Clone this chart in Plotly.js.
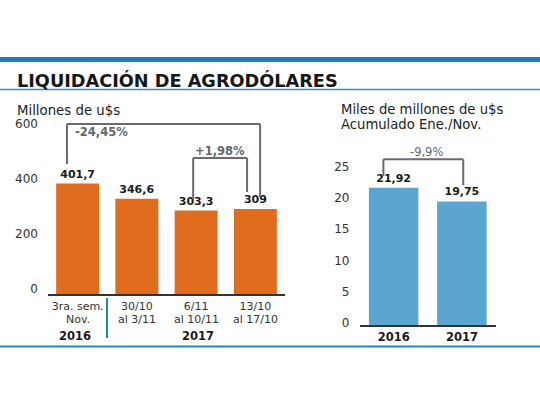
<!DOCTYPE html>
<html>
<head>
<meta charset="utf-8">
<script src="https://cdn.plot.ly/plotly-3.0.1.min.js"></script>
<style>
  html, body { margin: 0; padding: 0; background: #ffffff; }
  #chart { width: 540px; height: 405px; }
</style>
</head>
<body>
<div id="chart"></div>
<script>
// Weekly liquidation (millions of US$)
const weekLabelTop = ['3ra. sem.', '30/10', '6/11', '13/10'];
const weekLabelBottom = ['Nov.', 'al 3/11', 'al 10/11', 'al 17/10'];
const weekValues = [401.7, 346.6, 303.3, 309];
const weekTicks = [0, 200, 400, 600];

// Accumulated Jan./Nov. (billions of US$)
const yearCats = ['2016', '2017'];
const yearValues = [21.92, 19.75];
const yearTicks = [0, 5, 10, 15, 20, 25];

// Variation labels
const changeBig = '-24,45%';
const changeSmall = '+1,98%';
const changeYear = '-9,9%';

const W = 540, H = 405;
const px = v => v / W;          // pixel column -> paper x
const py = v => 1 - v / H;      // pixel row -> paper y

const ORANGE = '#e06c1e';
const BLUE = '#5aa6d0';
const RULE = '#1c7cb5';
const BRACKET = '#6b6b6b';
const FONT = 'DejaVu Sans, Verdana, sans-serif';

const fmt = v => String(v).replace('.', ',');

const traces = [
  {
    type: 'bar', x: weekLabelTop, y: weekValues,
    xaxis: 'x', yaxis: 'y',
    marker: { color: ORANGE },
    text: weekValues.map(fmt), textposition: 'outside', cliponaxis: false,
    textfont: { family: FONT, size: 11, color: '#1a1a1a', weight: 'bold' },
    hoverinfo: 'skip'
  },
  {
    type: 'bar', x: yearCats, y: yearValues,
    xaxis: 'x2', yaxis: 'y2',
    marker: { color: BLUE },
    text: yearValues.map(fmt), textposition: 'outside', cliponaxis: false,
    textfont: { family: FONT, size: 11, color: '#1a1a1a', weight: 'bold' },
    hoverinfo: 'skip'
  }
];

// bracket helper: two verticals joined by a top bar, in data coordinates
function bracket(xa, ya, xL, yL, xR, yR, yTop) {
  const base = { type: 'line', xref: xa, yref: ya, line: { color: BRACKET, width: 2 } };
  return [
    Object.assign({}, base, { x0: xL, x1: xL, y0: yL, y1: yTop }),
    Object.assign({}, base, { x0: xL, x1: xR, y0: yTop, y1: yTop }),
    Object.assign({}, base, { x0: xR, x1: xR, y0: yR, y1: yTop })
  ];
}

const shapes = [
  // heavy rule above the headline
  { type: 'rect', xref: 'paper', yref: 'paper', x0: 0, x1: 1, y0: py(62), y1: py(57),
    fillcolor: RULE, line: { width: 0 } },
  // thin rule under the headline
  { type: 'line', xref: 'paper', yref: 'paper', x0: 0, x1: 1, y0: py(89.5), y1: py(89.5),
    line: { color: '#3a8cc2', width: 1.5 } },
  // bottom rule
  { type: 'line', xref: 'paper', yref: 'paper', x0: 0, x1: 1, y0: py(346.5), y1: py(346.5),
    line: { color: '#2086c3', width: 2 } },
  // divider between years under the weekly chart
  { type: 'line', xref: 'paper', yref: 'paper', x0: px(107), x1: px(107), y0: py(298), y1: py(338),
    line: { color: '#2086c3', width: 2 } }
]
  .concat(bracket('x', 'y', -0.18, weekValues[0] + 71, 3.08, weekValues[3] + 44, 618))
  .concat(bracket('x', 'y', 1.95, weekValues[2] + 42, 2.86, weekValues[3] + 62, 495))
  .concat(bracket('x2', 'y2', -0.15, yearValues[0] + 1.9, 1.02, yearValues[1] + 2.6, 26.5));

const annotations = [
  { xref: 'paper', yref: 'paper', x: px(15), y: py(80), xanchor: 'left', yanchor: 'middle',
    text: 'LIQUIDACIÓN DE AGRODÓLARES', showarrow: false,
    font: { family: FONT, size: 17.7, color: '#161616', weight: 'bold' } },
  { xref: 'paper', yref: 'paper', x: px(15), y: py(110), xanchor: 'left', yanchor: 'middle',
    text: 'Millones de u$s', showarrow: false,
    font: { family: FONT, size: 13.3, color: '#222222' } },
  { xref: 'paper', yref: 'paper', x: px(339), y: py(109.5), xanchor: 'left', yanchor: 'middle',
    text: 'Miles de millones de u$s', showarrow: false,
    font: { family: FONT, size: 13.2, color: '#222222' } },
  { xref: 'paper', yref: 'paper', x: px(339), y: py(124.5), xanchor: 'left', yanchor: 'middle',
    text: 'Acumulado Ene./Nov.', showarrow: false,
    font: { family: FONT, size: 13.2, color: '#222222' } },
  { xref: 'x', yref: 'y', x: -0.08, y: 589, xanchor: 'left', yanchor: 'middle',
    text: changeBig, showarrow: false,
    font: { family: FONT, size: 11.5, color: '#666666', weight: 'bold' } },
  { xref: 'x', yref: 'y', x: 2.4, y: 520, xanchor: 'center', yanchor: 'middle',
    text: changeSmall, showarrow: false,
    font: { family: FONT, size: 11.5, color: '#666666', weight: 'bold' } },
  { xref: 'x2', yref: 'paper', x: 0.48, y: py(152), xanchor: 'center', yanchor: 'middle',
    text: changeYear, showarrow: false,
    font: { family: FONT, size: 11.5, color: '#666666' } },
  { xref: 'paper', yref: 'paper', x: px(75), y: py(336), xanchor: 'center', yanchor: 'middle',
    text: '2016', showarrow: false,
    font: { family: FONT, size: 11.5, color: '#1a1a1a', weight: 'bold' } },
  { xref: 'paper', yref: 'paper', x: px(198), y: py(336), xanchor: 'center', yanchor: 'middle',
    text: '2017', showarrow: false,
    font: { family: FONT, size: 11.5, color: '#1a1a1a', weight: 'bold' } }
].concat(weekLabelTop.map((c, i) => ({
  xref: 'x', yref: 'paper', x: c, y: py(319.5), xanchor: 'center', yanchor: 'middle',
  text: weekLabelBottom[i], showarrow: false,
  font: { family: FONT, size: 11, color: '#333333' }
})));

const layout = {
  width: W, height: H,
  margin: { l: 0, r: 0, t: 0, b: 0 },
  paper_bgcolor: '#ffffff', plot_bgcolor: 'rgba(0,0,0,0)',
  showlegend: false,
  bargap: 0.275,
  xaxis: {
    domain: [px(48), px(285)], anchor: 'y', type: 'category', range: [-0.5, 3.5],
    showline: true, linecolor: '#333333', linewidth: 1.5,
    showgrid: false, zeroline: false, ticks: '', ticklabelstandoff: 1,
    tickfont: { family: FONT, size: 11, color: '#333333' }, fixedrange: true
  },
  yaxis: {
    domain: [py(294), py(115.25)], anchor: 'x', range: [0, 650],
    tickvals: weekTicks, ticktext: weekTicks.map(String),
    showline: false, showgrid: false, zeroline: false, ticks: '',
    ticklabelshift: -5, ticklabelstandoff: 9,
    tickfont: { family: FONT, size: 12, color: '#333333' }, fixedrange: true
  },
  xaxis2: {
    domain: [px(359.5), px(496)], anchor: 'y2', type: 'category', range: [-0.5, 1.5],
    showline: true, linecolor: '#333333', linewidth: 1.5,
    showgrid: false, zeroline: false, ticks: '', ticklabelstandoff: 1,
    tickfont: { family: FONT, size: 11.5, color: '#1a1a1a', weight: 'bold' }, fixedrange: true
  },
  yaxis2: {
    domain: [py(325), py(156)], anchor: 'x2', range: [0, 27],
    tickvals: yearTicks, ticktext: yearTicks.map(String),
    showline: false, showgrid: false, zeroline: false, ticks: '',
    ticklabelshift: -2, ticklabelstandoff: 9,
    tickfont: { family: FONT, size: 12, color: '#333333' }, fixedrange: true
  },
  shapes: shapes,
  annotations: annotations
};

Plotly.newPlot('chart', traces, layout, { staticPlot: true, displayModeBar: false });
</script>
</body>
</html>
